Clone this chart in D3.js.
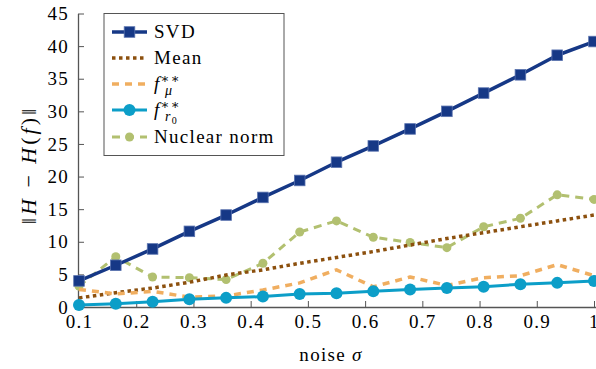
<html>
<head>
<meta charset="utf-8">
<script src="https://d3js.org/d3.v7.min.js"></script>
<style>
  body { margin: 0; background: #fff; }
</style>
</head>
<body>
<div id="chart"><svg width="596" height="369"></svg></div>
<script>
// data
var noise = [0.1, 0.1643, 0.2286, 0.2929, 0.3571, 0.4214, 0.4857, 0.55, 0.6143, 0.6786, 0.7429, 0.8071, 0.8714, 0.9357, 1.0];
var svdVals = [4.0, 6.4, 8.9, 11.6, 14.1, 16.8, 19.4, 22.2, 24.7, 27.3, 30.0, 32.8, 35.6, 38.6, 40.7];
var meanVals = [1.4, 2.2, 2.9, 3.8, 4.9, 5.7, 6.7, 7.6, 8.5, 9.5, 10.5, 11.4, 12.3, 13.2, 14.1];
var fmuVals = [2.7, 2.0, 2.4, 1.5, 1.7, 2.6, 3.7, 5.7, 3.1, 4.6, 3.3, 4.5, 4.8, 6.5, 4.8];
var fr0Vals = [0.3, 0.5, 0.8, 1.2, 1.4, 1.6, 2.0, 2.1, 2.4, 2.7, 2.9, 3.1, 3.5, 3.7, 4.0];
var nuclearVals = [3.2, 7.7, 4.6, 4.5, 4.2, 6.7, 11.5, 13.2, 10.7, 9.9, 9.1, 12.3, 13.6, 17.2, 16.5];
var xTicks = [0.1, 0.2, 0.3, 0.4, 0.5, 0.6, 0.7, 0.8, 0.9, 1];
var yTicks = [0, 5, 10, 15, 20, 25, 30, 35, 40, 45];

var svg = d3.select("#chart").select("svg");
var axisColor = "rgb(85,85,85)";
var fontSize = "19px";
var spacing = "1.3px";
var serif = "'Liberation Serif', 'DejaVu Serif', serif";

var x = d3.scaleLinear().domain([0.1, 1]).range([79, 594]);
var y = d3.scaleLinear().domain([0, 45]).range([307, 13.5]);

// series styles
var series = [
  { name: "nuclear", vals: nuclearVals, color: "rgb(178,192,112)", width: 3, dash: "8,6", marker: "circle", r: 4.5 },
  { name: "mean", vals: meanVals, color: "rgb(140,80,14)", width: 3.5, dash: "3.5,3.5", marker: null },
  { name: "fmu", vals: fmuVals, color: "rgb(240,174,96)", width: 3.5, dash: "7,6", marker: null },
  { name: "fr0", vals: fr0Vals, color: "rgb(12,158,200)", width: 3, dash: null, marker: "circle", r: 6 },
  { name: "svd", vals: svdVals, color: "rgb(22,56,134)", width: 3.5, dash: null, marker: "square", r: 5.3 }
];

// axes
var xAxis = d3.axisBottom(x).tickValues(xTicks).tickSizeInner(-6).tickSizeOuter(0)
  .tickFormat(function(d) { return d === 1 ? "1" : d.toFixed(1); });
var gx = svg.append("g").attr("transform", "translate(0,307)").call(xAxis);
gx.select(".domain").attr("stroke", axisColor).attr("stroke-width", 1.3).attr("d", "M77,0.5H596");
gx.selectAll(".tick line").attr("stroke", axisColor);
gx.selectAll(".tick text").attr("fill", "#000")
  .style("font-size", fontSize).style("font-family", serif).style("letter-spacing", spacing)
  .attr("y", 7).attr("dy", "0.75em");

var yAxis = d3.axisLeft(y).tickValues(yTicks).tickSizeInner(-6).tickSizeOuter(0);
var gy = svg.append("g").attr("transform", "translate(78,0)").call(yAxis);
gy.select(".domain").attr("stroke", axisColor).attr("stroke-width", 1.3);
gy.selectAll(".tick line").attr("stroke", axisColor);
gy.selectAll(".tick text").attr("fill", "#000")
  .style("font-size", fontSize).style("font-family", serif).style("letter-spacing", spacing)
  .attr("x", -9);

// lines
var line = d3.line().x(function(d, i) { return x(noise[i]); }).y(function(d) { return y(d); });
series.forEach(function(s) {
  svg.append("path")
    .datum(s.vals)
    .attr("d", line)
    .attr("fill", "none")
    .attr("stroke", s.color)
    .attr("stroke-width", s.width)
    .attr("stroke-dasharray", s.dash)
    .attr("stroke-linejoin", "round");
  if (s.marker === "circle") {
    svg.selectAll(null).data(s.vals).enter().append("circle")
      .attr("cx", function(d, i) { return x(noise[i]); })
      .attr("cy", function(d) { return y(d); })
      .attr("r", s.r)
      .attr("fill", s.color);
  } else if (s.marker === "square") {
    svg.selectAll(null).data(s.vals).enter().append("rect")
      .attr("x", function(d, i) { return x(noise[i]) - s.r; })
      .attr("y", function(d) { return y(d) - s.r; })
      .attr("width", s.r * 2)
      .attr("height", s.r * 2)
      .attr("fill", s.color)
      .attr("stroke", "rgb(90,115,175)")
      .attr("stroke-width", 0.8);
  }
});

// axis titles
svg.append("text")
  .attr("x", 331).attr("y", 361)
  .style("font-size", fontSize).style("font-family", serif).style("letter-spacing", spacing)
  .attr("text-anchor", "middle")
  .html('noise <tspan font-style="italic">σ</tspan>');

svg.append("text")
  .attr("transform", "translate(36,165) rotate(-90)")
  .style("font-size", "22px").style("font-family", serif).style("letter-spacing", "3px")
  .attr("text-anchor", "middle")
  .html('‖<tspan font-style="italic">H</tspan> − <tspan font-style="italic">H</tspan>(<tspan font-style="italic">f</tspan>)‖');

// legend
var legend = svg.append("g");
legend.append("rect")
  .attr("x", 104).attr("y", 13.5).attr("width", 180).attr("height", 142)
  .attr("fill", "#fff").attr("stroke", axisColor).attr("stroke-width", 1);

var legendRows = [
  { s: series[4], y: 32, label: 'SVD' },
  { s: series[1], y: 58, label: 'Mean' },
  { s: series[2], y: 84, label: '<tspan font-style="italic">f</tspan><tspan dy="-7" font-size="13px">∗∗</tspan><tspan dx="-16" dy="12" font-size="14px" font-style="italic">μ</tspan>' },
  { s: series[3], y: 110, label: '<tspan font-style="italic">f</tspan><tspan dy="-7" font-size="13px">∗∗</tspan><tspan dx="-16" dy="12" font-size="14px" font-style="italic">r</tspan><tspan dy="3" font-size="10px">0</tspan>' },
  { s: series[0], y: 137, label: 'Nuclear norm' }
];
legendRows.forEach(function(row) {
  var s = row.s;
  legend.append("line")
    .attr("x1", 112).attr("x2", 147).attr("y1", row.y).attr("y2", row.y)
    .attr("stroke", s.color).attr("stroke-width", s.width)
    .attr("stroke-dasharray", s.dash);
  if (s.marker === "circle") {
    legend.append("circle").attr("cx", 129.5).attr("cy", row.y).attr("r", s.r).attr("fill", s.color);
  } else if (s.marker === "square") {
    legend.append("rect").attr("x", 129.5 - s.r).attr("y", row.y - s.r)
      .attr("width", s.r * 2).attr("height", s.r * 2).attr("fill", s.color)
      .attr("stroke", "rgb(90,115,175)").attr("stroke-width", 0.8);
  }
  legend.append("text")
    .attr("x", 154).attr("y", row.y + 6)
    .style("font-size", fontSize).style("font-family", serif).style("letter-spacing", spacing)
    .html(row.label);
});
</script>
</body>
</html>
